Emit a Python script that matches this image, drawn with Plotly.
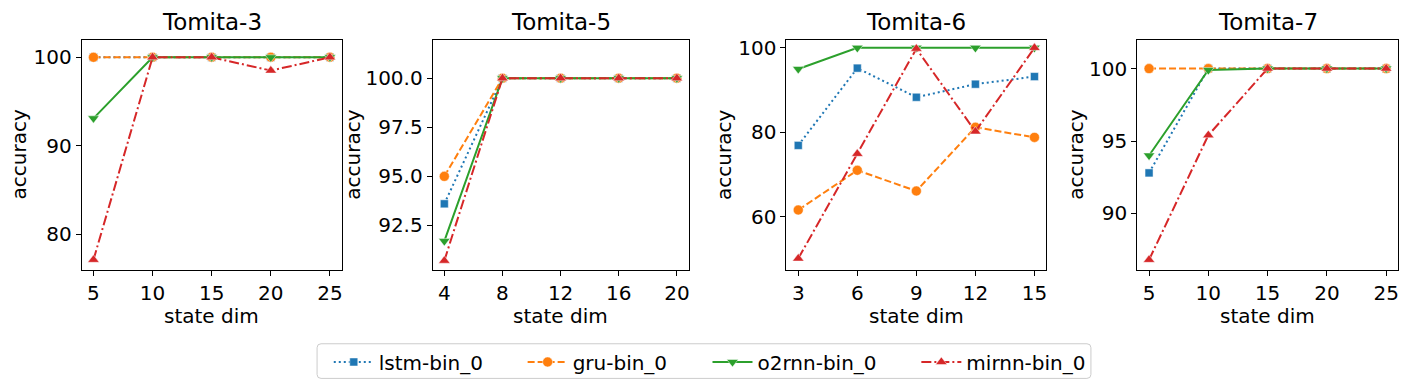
import plotly.graph_objects as go
from plotly.subplots import make_subplots

# x values (state dim) per task
x_t3 = [5, 10, 15, 20, 25]
x_t5 = [4, 8, 12, 16, 20]
x_t6 = [3, 6, 9, 12, 15]
x_t7 = [5, 10, 15, 20, 25]

# Tomita-3
lstm_t3 = [100.0, 100.0, 100.0, 100.0, 100.0]
gru_t3 = [100.0, 100.0, 100.0, 100.0, 100.0]
o2rnn_t3 = [93.1, 100.0, 100.0, 100.0, 100.0]
mirnn_t3 = [77.1, 100.0, 100.0, 98.5, 100.0]

# Tomita-5
lstm_t5 = [93.6, 100.0, 100.0, 100.0, 100.0]
gru_t5 = [95.0, 100.0, 100.0, 100.0, 100.0]
o2rnn_t5 = [91.7, 100.0, 100.0, 100.0, 100.0]
mirnn_t5 = [90.7, 100.0, 100.0, 100.0, 100.0]

# Tomita-6
lstm_t6 = [76.9, 95.2, 88.3, 91.4, 93.2]
gru_t6 = [61.6, 71.0, 66.1, 81.2, 78.8]
o2rnn_t6 = [95.0, 100.0, 100.0, 100.0, 100.0]
mirnn_t6 = [50.1, 74.9, 99.8, 80.2, 100.0]

# Tomita-7
lstm_t7 = [92.8, 100.0, 100.0, 100.0, 100.0]
gru_t7 = [100.0, 100.0, 100.0, 100.0, 100.0]
o2rnn_t7 = [94.0, 99.9, 100.0, 100.0, 100.0]
mirnn_t7 = [86.8, 95.4, 100.0, 100.0, 100.0]

titles = ["Tomita-3", "Tomita-5", "Tomita-6", "Tomita-7"]
series_names = ["lstm-bin_0", "gru-bin_0", "o2rnn-bin_0", "mirnn-bin_0"]

panels = [
    (x_t3, [lstm_t3, gru_t3, o2rnn_t3, mirnn_t3]),
    (x_t5, [lstm_t5, gru_t5, o2rnn_t5, mirnn_t5]),
    (x_t6, [lstm_t6, gru_t6, o2rnn_t6, mirnn_t6]),
    (x_t7, [lstm_t7, gru_t7, o2rnn_t7, mirnn_t7]),
]

# styles: colour, dash, marker symbol, marker size
styles = [
    ("#1f77b4", "2px,3px", "square", 8),
    ("#ff7f0e", "7px,3px", "circle", 10),
    ("#2ca02c", "solid", "triangle-down", 10),
    ("#d62728", "10px,3px,2px,3px", "triangle-up", 10),
]

W, H = 1409, 388
FONT = "DejaVu Sans"
legend_ids = ["legend", "legend2", "legend3", "legend4"]

fig = make_subplots(rows=1, cols=4)

for c, (xs, ys_list) in enumerate(panels, start=1):
    for k, ys in enumerate(ys_list):
        color, dash, sym, msize = styles[k]
        fig.add_trace(
            go.Scatter(
                x=xs, y=ys,
                mode="lines+markers",
                name=series_names[k],
                legendgroup=series_names[k],
                legend=legend_ids[k],
                showlegend=(c == 1),
                line=dict(color=color, width=2, dash=dash),
                marker=dict(symbol=sym, size=msize, color=color,
                            line=dict(color="rgba(255,255,255,0.6)", width=0.8)),
                cliponaxis=False,
            ),
            row=1, col=c,
        )

# axes placement (pixel based)
x_px = [(81.7, 342.0), (433.0, 689.0), (787.0, 1047.0), (1138.0, 1399.0)]
y_top, y_bot = 36.0, 268.3
ydom = [1 - y_bot / H, 1 - y_top / H]

x_ranges = [[4, 26], [3.2, 20.8], [2.4, 15.6], [4, 26]]
y_ranges = [[76.0, 102.0], [90.25, 101.97], [47.5, 101.95], [86.13, 102.0]]
y_ticks = [[80, 90, 100], [92.5, 95.0, 97.5, 100.0], [60, 80, 100], [90, 95, 100]]
y_fmt = ["d", ".1f", "d", "d"]
ytitle_x = [19, 353.5, 725, 1077]

axis_common = dict(
    showline=True, linecolor="black", linewidth=1, mirror=True,
    ticks="outside", ticklen=5, tickwidth=1, tickcolor="black",
    showgrid=False, zeroline=False,
    tickfont=dict(family=FONT, size=20, color="black"),
)

annotations = []
for i in range(4):
    xd = [x_px[i][0] / W, x_px[i][1] / W]
    fig.update_xaxes(domain=xd, range=x_ranges[i], tickvals=panels[i][0],
                     **axis_common, row=1, col=i + 1)
    fig.update_yaxes(domain=ydom, range=y_ranges[i], tickvals=y_ticks[i],
                     tickformat=y_fmt[i], **axis_common, row=1, col=i + 1)
    cx = (x_px[i][0] + x_px[i][1]) / 2 / W
    annotations.append(dict(text=titles[i], x=cx, y=1 - 18 / H, xref="paper", yref="paper",
                            showarrow=False, xanchor="center", yanchor="middle", borderpad=0,
                            font=dict(family=FONT, size=23, color="black")))
    annotations.append(dict(text="state dim", x=cx, y=1 - 315 / H, xref="paper", yref="paper",
                            showarrow=False, xanchor="center", yanchor="middle", borderpad=0,
                            font=dict(family=FONT, size=20, color="black")))
    annotations.append(dict(text="accuracy", x=ytitle_x[i] / W, y=1 - 152 / H,
                            xref="paper", yref="paper", textangle=-90, borderpad=0,
                            showarrow=False, xanchor="center", yanchor="middle",
                            font=dict(family=FONT, size=20, color="black")))

# legend frame (rounded, like matplotlib)
lx0, lx1, ly0, ly1, r = 317.3 / W, 1091.7 / W, 1 - 378.3 / H, 1 - 343.3 / H, 4
rx, ry = r / W, r / H
frame = (f"M{lx0 + rx},{ly1} L{lx1 - rx},{ly1} Q{lx1},{ly1} {lx1},{ly1 - ry} "
         f"L{lx1},{ly0 + ry} Q{lx1},{ly0} {lx1 - rx},{ly0} L{lx0 + rx},{ly0} "
         f"Q{lx0},{ly0} {lx0},{ly0 + ry} L{lx0},{ly1 - ry} Q{lx0},{ly1} {lx0 + rx},{ly1} Z")

legend_x = [329, 523, 708, 917]
legends = {}
for lid, lxp in zip(legend_ids, legend_x):
    legends[lid] = dict(
        orientation="h", x=lxp / W, xanchor="left", y=1 - 342 / H, yanchor="top",
        borderwidth=0, bgcolor="rgba(0,0,0,0)", itemwidth=40,
        font=dict(family=FONT, size=20, color="black"),
    )

fig.update_layout(
    width=W, height=H,
    margin=dict(l=0, r=0, t=0, b=0),
    paper_bgcolor="white", plot_bgcolor="white",
    font=dict(family=FONT, size=20, color="black"),
    annotations=annotations,
    shapes=[dict(type="path", path=frame, xref="paper", yref="paper",
                 line=dict(color="#cccccc", width=1), fillcolor="white", layer="below")],
    **legends,
)

fig.write_html("out.html", config={"displayModeBar": False},
               post_script="document.body.style.margin='0';")
